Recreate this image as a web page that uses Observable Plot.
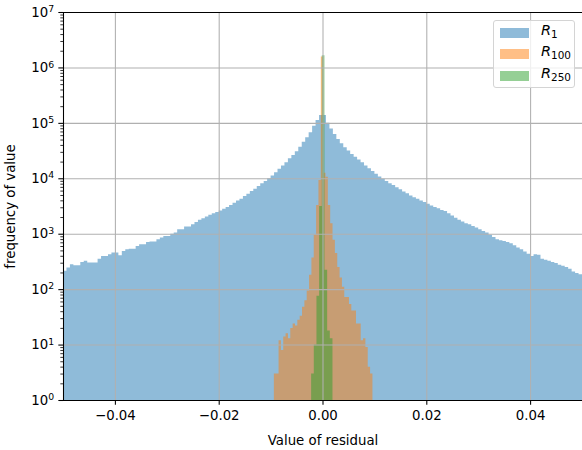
<!DOCTYPE html>
<html>
<head>
<meta charset="utf-8">
<script src="https://cdn.jsdelivr.net/npm/d3@7"></script>
<script src="https://cdn.jsdelivr.net/npm/@observablehq/plot@0.6"></script>
<style>
  html, body { margin: 0; padding: 0; background: #fff; overflow: hidden; }
  #wrap { position: relative; width: 582px; height: 450px; font-family: "DejaVu Sans", sans-serif; }
  #legend { position: absolute; left: 493px; top: 20px; width: 82px; height: 68px; box-sizing: border-box;
            border: 1px solid #d4d4d4; border-radius: 3px; background: rgba(255,255,255,0.8); }
  .row { position: absolute; left: 0; height: 10px; }
  .sw { position: absolute; left: 6px; top: 0; width: 29px; height: 10px; }
  .lab { position: absolute; left: 47px; top: -6px; font-size: 14.5px; line-height: 17px; white-space: nowrap; color: #000; }
  .lab i { font-style: italic; }
  .lab sub { font-size: 0.72em; vertical-align: -0.3em; line-height: 0; }
</style>
</head>
<body>
<div id="wrap"></div>
<script>
// ---------- data ----------
const seriesSubs = ["1", "100", "250"];
const seriesColors = ["#1f77b4", "#ff7f0e", "#2ca02c"];

// R_1 : 150 equal bins from -0.05 to 0.05
const r1Range = [-0.05, 0.05];
const r1Counts = [
  214, 245, 282, 269, 269, 309, 324, 302, 302, 302,
  355, 398, 398, 427, 457, 457, 407, 490, 525, 537,
  537, 603, 646, 646, 708, 724, 724, 794, 851, 912,
  912, 1000, 1047, 1202, 1202, 1349, 1349, 1479, 1622, 1778,
  1905, 2042, 2188, 2344, 2455, 2630, 2818, 3020, 3311, 3631,
  3981, 4266, 4786, 5248, 5888, 6457, 7244, 8128, 8913, 10000,
  11220, 12880, 14790, 16980, 19500, 22910, 26300, 30900, 37150, 45710,
  54950, 67610, 89130, 112200, 138000, 138000, 100000, 79430, 63100, 51290,
  42660, 36310, 31620, 27540, 24550, 21880, 19500, 16980, 15140, 13490,
  12020, 10720, 9772, 8913, 8128, 7586, 6918, 6310, 5754, 5370,
  4898, 4571, 4266, 3981, 3715, 3467, 3236, 3020, 2884, 2692,
  2570, 2344, 2138, 1950, 1778, 1660, 1549, 1479, 1380, 1288,
  1202, 1122, 1047, 955, 871, 794, 759, 741, 708, 676,
  617, 562, 525, 479, 437, 398, 427, 417, 355, 339,
  324, 309, 295, 275, 263, 251, 234, 209, 195, 186
];

// R_100 : 42 equal bins
const r100Range = [-0.00937, 0.00962];
const r100Counts = [
  3, 3, 12, 8, 14, 16, 13, 20, 24, 22,
  28, 33, 48, 63, 95, 182, 372, 955, 3311, 9300,
  1580000, 12600, 10700, 3311, 1549, 776, 447, 251, 162, 110,
  72, 72, 54, 41, 41, 24, 24, 12, 13, 9,
  4, 3
];

// R_250 : 8 equal bins
const r250Range = [-0.00219, 0.00192];
const r250Counts = [3, 10, 76, 3160, 1660000, 224, 18, 13];

const xTicks = [-0.04, -0.02, 0, 0.02, 0.04];
const yTicks = [1, 10, 100, 1000, 1e4, 1e5, 1e6, 1e7];
const xLabel = "Value of residual";
const yLabel = "frequency of value";

// ---------- helpers ----------
function stepPoints(counts, [lo, hi]) {
  const w = (hi - lo) / counts.length;
  const pts = counts.map((c, i) => ({x: lo + i * w, count: c, base: 1}));
  pts.push({x: hi, count: counts[counts.length - 1], base: 1});
  return pts;
}
const minorTicks = [];
for (let e = 0; e < 7; e++) for (let m = 2; m <= 9; m++) minorTicks.push(m * Math.pow(10, e));

const series = [
  stepPoints(r1Counts, r1Range),
  stepPoints(r100Counts, r100Range),
  stepPoints(r250Counts, r250Range)
];

const gridStyle = {stroke: "#b0b0b0", strokeOpacity: 1, strokeWidth: 1.07};

const svg = Plot.plot({
  width: 582,
  height: 450,
  marginTop: 12,
  marginBottom: 50,
  marginLeft: 63,
  marginRight: 0,
  style: {fontFamily: "DejaVu Sans, sans-serif", fontSize: "13.3px", background: "#fff", color: "#000", overflow: "visible"},
  x: {domain: r1Range},
  y: {type: "log", domain: [1, 1e7]},
  marks: [
    ...series.map((pts, i) => Plot.areaY(pts, {
      x: "x", y1: "base", y2: "count", curve: "step-after",
      fill: seriesColors[i], fillOpacity: 0.5, clip: true
    })),
    Plot.gridX(xTicks, gridStyle),
    Plot.gridY(yTicks, gridStyle),
    Plot.axisY(minorTicks, {tickSize: 2.67, strokeWidth: 0.8, tickFormat: () => "", label: null}),
    Plot.axisY({
      ticks: yTicks, tickSize: 4.67, tickPadding: 4.67, strokeWidth: 1.07,
      tickFormat: d => "10^" + Math.round(Math.log10(d)),
      label: yLabel, labelAnchor: "center", labelOffset: 58, labelArrow: "none", fontSize: 13.3
    }),
    Plot.axisX({
      ticks: xTicks, tickSize: 4.67, tickPadding: 5, strokeWidth: 1.07,
      tickFormat: d3.format(".2f"),
      label: xLabel, labelAnchor: "center", labelOffset: 44, labelArrow: "none", fontSize: 13.3
    }),
    Plot.ruleY([1e7], {stroke: "#000", strokeWidth: 1.07}),
    Plot.ruleY([1], {stroke: "#000", strokeWidth: 1.07}),
    Plot.ruleX([r1Range[0]], {stroke: "#000", strokeWidth: 1.07})
  ]
});

// superscript exponents on y tick labels
const NS = "http://www.w3.org/2000/svg";
svg.querySelectorAll('g[aria-label="y-axis tick label"] text').forEach(t => {
  const s = t.textContent;
  if (!s.includes("^")) return;
  const [b, e] = s.split("^");
  t.textContent = "";
  const t1 = document.createElementNS(NS, "tspan");
  t1.textContent = b;
  const t2 = document.createElementNS(NS, "tspan");
  t2.setAttribute("dy", "-0.5em");
  t2.setAttribute("font-size", "0.7em");
  t2.textContent = e;
  t.append(t1, t2);
});

const wrap = document.getElementById("wrap");
wrap.appendChild(svg);

// legend
const legend = document.createElement("div");
legend.id = "legend";
seriesSubs.forEach((sub, i) => {
  const row = document.createElement("div");
  row.className = "row";
  row.style.top = (6.7 + i * 21.7) + "px";
  row.style.width = "100%";
  const sw = document.createElement("div");
  sw.className = "sw";
  sw.style.background = seriesColors[i];
  sw.style.opacity = 0.5;
  const lab = document.createElement("div");
  lab.className = "lab";
  lab.innerHTML = "<i>R</i><sub>" + sub + "</sub>";
  row.append(sw, lab);
  legend.appendChild(row);
});
wrap.appendChild(legend);
</script>
</body>
</html>
